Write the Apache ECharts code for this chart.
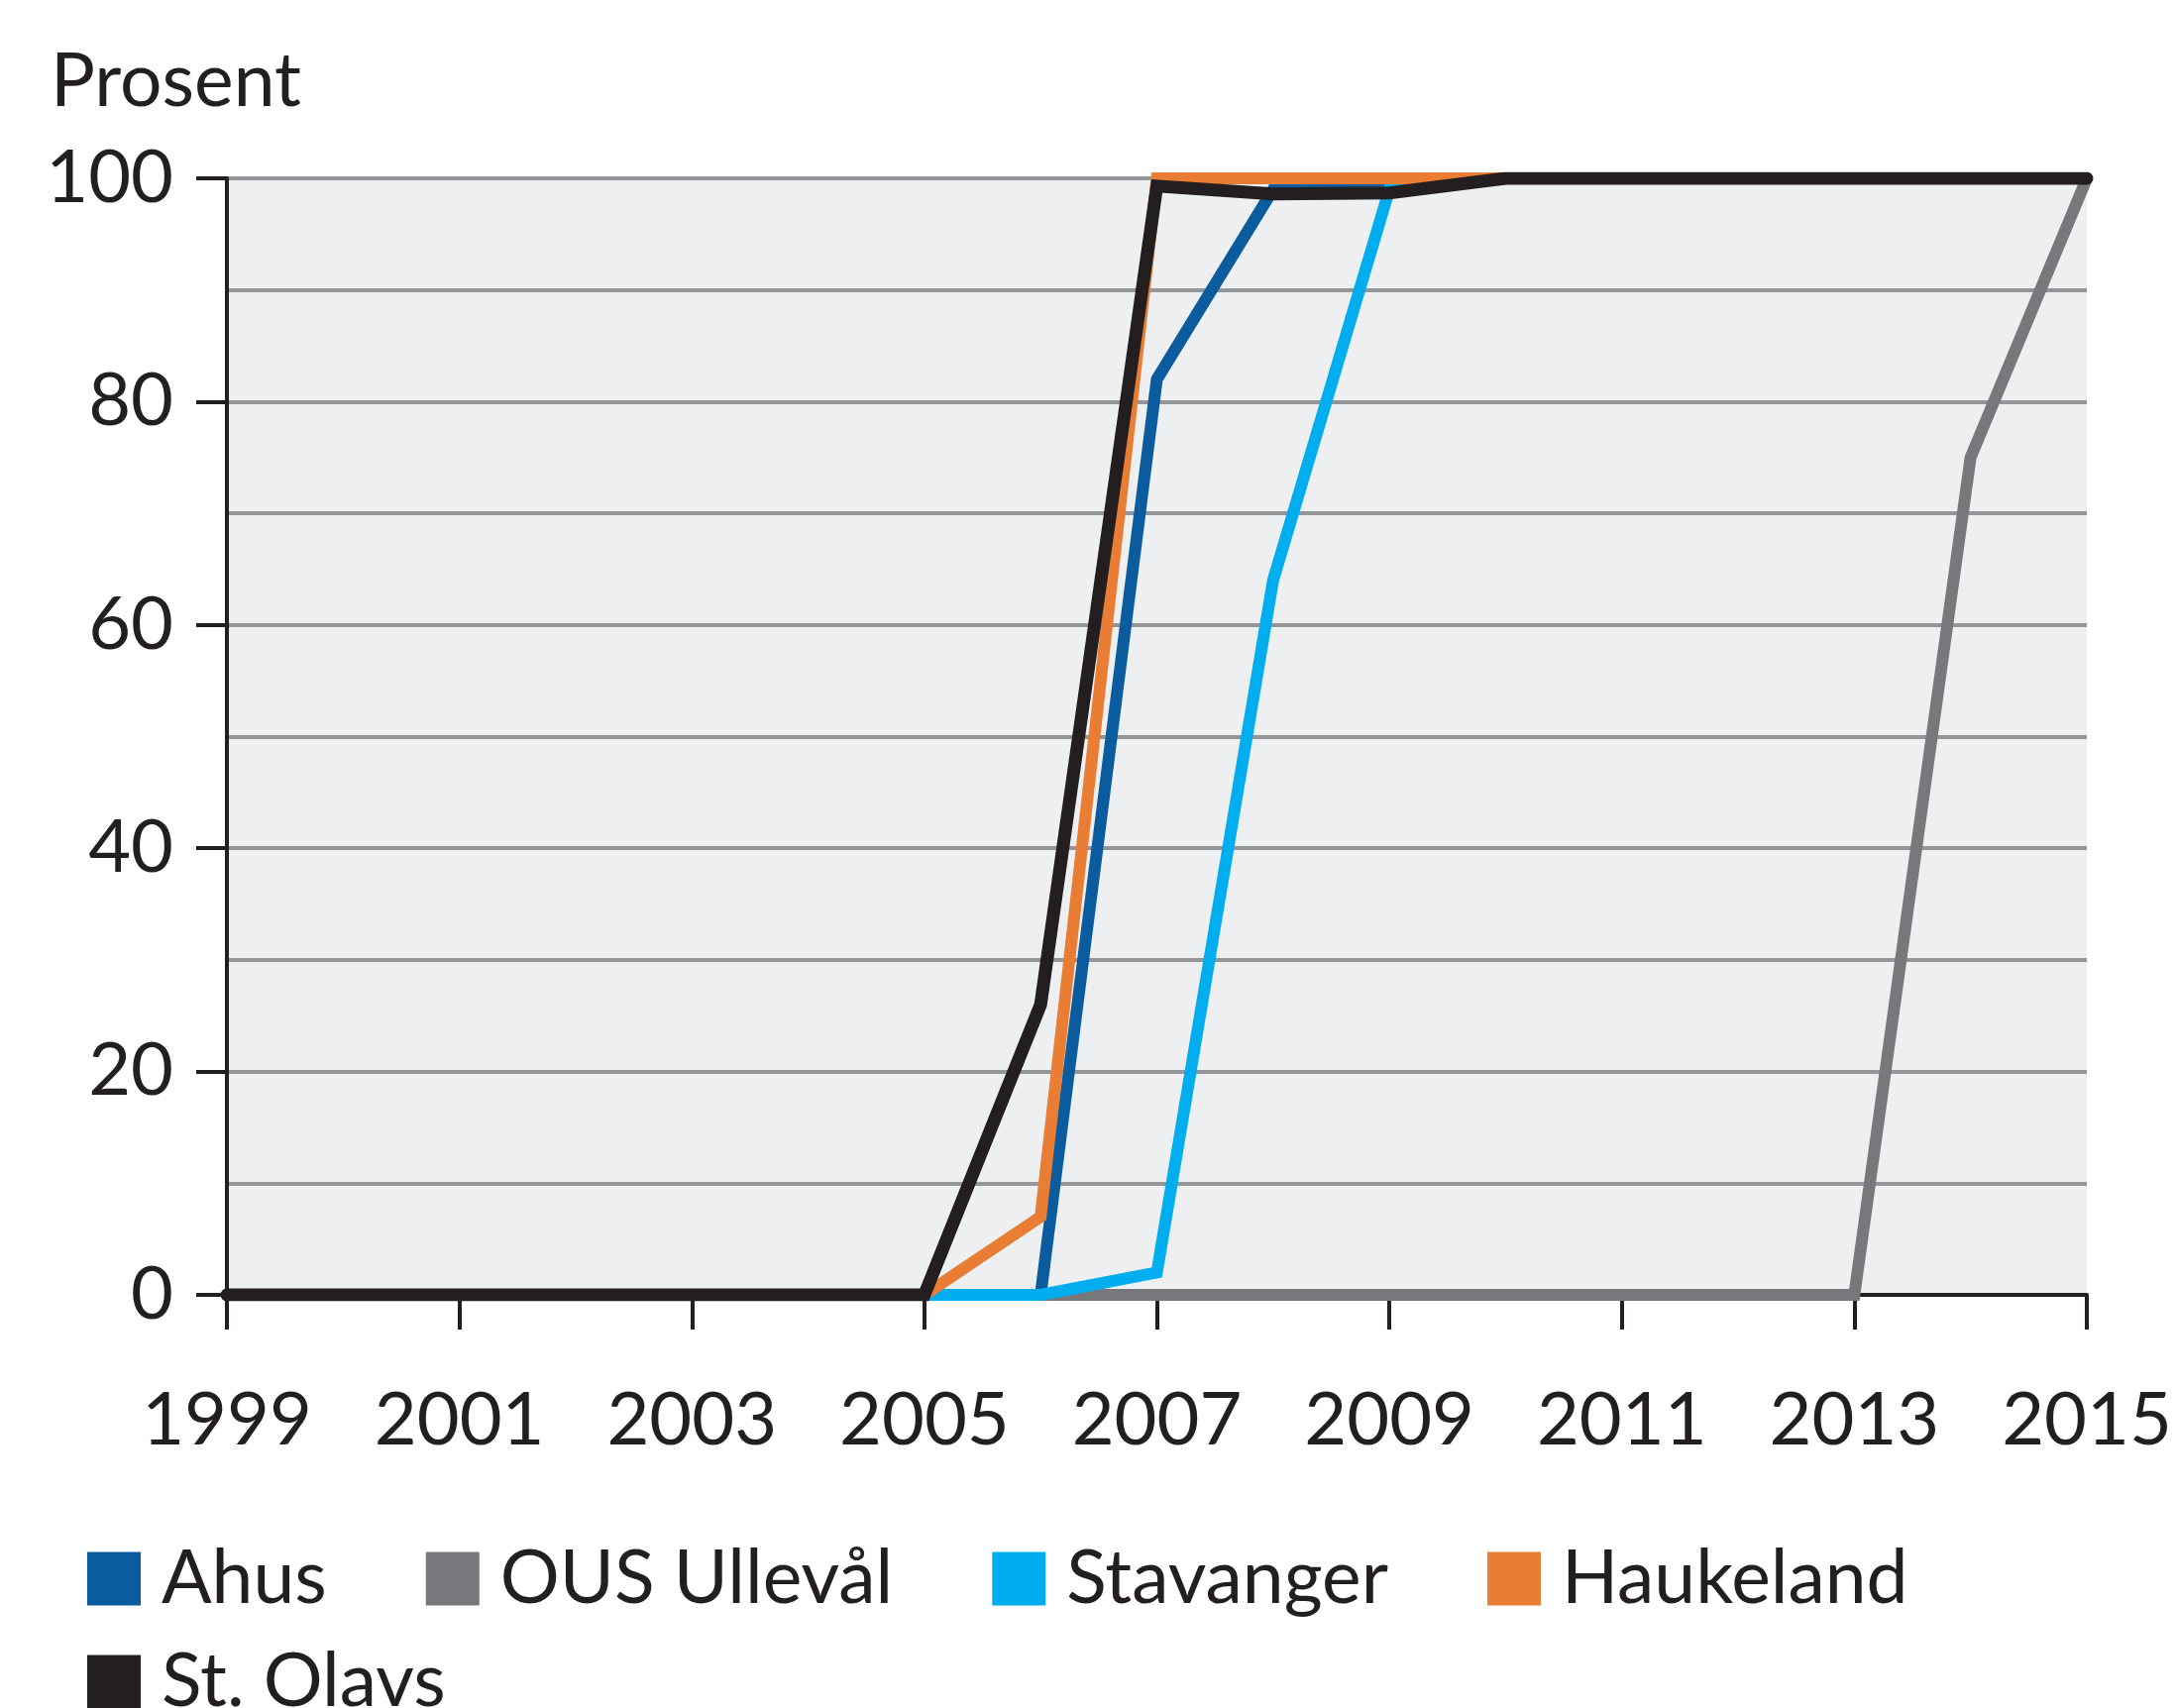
<!DOCTYPE html>
<html>
<head>
<meta charset="utf-8">
<script src="https://cdn.jsdelivr.net/npm/echarts@6/dist/echarts.min.js"></script>
<style>
html, body { margin: 0; padding: 0; background: #fff; }
#chart { width: 2196px; height: 1724px; }
</style>
</head>
<body>
<div id="chart"></div>
<script>
// år og andel (prosent) per sykehus
var years = ['1999','2000','2001','2002','2003','2004','2005','2006','2007','2008','2009','2010','2011','2012','2013','2014','2015'];
var ahus       = [0, 0, 0, 0, 0, 0, 0, 0, 82, 99, 99, 100, 100, 100, 100, 100, 100];
var ullevaal   = [0, 0, 0, 0, 0, 0, 0, 0, 0, 0, 0, 0, 0, 0, 0, 75, 100];
var stavanger  = [0, 0, 0, 0, 0, 0, 0, 0, 2, 64, 99, 100, 100, 100, 100, 100, 100];
var haukeland  = [0, 0, 0, 0, 0, 0, 0, 7, 100, 100, 100, 100, 100, 100, 100, 100, 100];
var stOlavs    = [0, 0, 0, 0, 0, 0, 0, 26, 99.3, 98.6, 98.7, 100, 100, 100, 100, 100, 100];

var names  = ['Ahus', 'OUS Ullevål', 'Stavanger', 'Haukeland', 'St. Olavs'];
var colors = ['#0a5c9f', '#77787b', '#00aeef', '#e87d33', '#231f20'];
var values = [ahus, ullevaal, stavanger, haukeland, stOlavs];

var txt = '#231f20';
var font = 'Lato';

var chart = echarts.init(document.getElementById('chart'));

var series = names.map(function (n, i) {
    return {
        name: n,
        type: 'line',
        data: values[i],
        showSymbol: false,
        symbol: 'none',
        color: colors[i],
        lineStyle: { color: colors[i], width: i === 4 ? 13 : 12, cap: 'round', join: 'miter' },
        z: 2 + i
    };
});

chart.setOption({
    animation: false,
    textStyle: { fontFamily: font, color: txt },
    title: {
        text: 'Prosent',
        left: 46,
        top: 40,
        textStyle: { fontFamily: font, fontSize: 75, fontWeight: 'normal', color: txt }
    },
    legend: [{
        data: names.slice(0, 4),
        left: 88,
        top: 1556,
        padding: 0,
        icon: 'rect',
        itemWidth: 54,
        itemHeight: 54,
        itemGap: 100,
        textStyle: { fontFamily: font, fontSize: 75, color: txt, padding: [0, 0, 0, 16] }
    }, {
        data: names.slice(4),
        left: 88,
        top: 1660,
        padding: 0,
        icon: 'rect',
        itemWidth: 54,
        itemHeight: 54,
        textStyle: { fontFamily: font, fontSize: 75, color: txt, padding: [0, 0, 0, 16] }
    }],
    grid: {
        left: 229,
        right: 90,
        top: 180,
        bottom: 417,
        show: true,
        backgroundColor: '#eeeff1',
        borderWidth: 0,
        containLabel: false
    },
    xAxis: {
        type: 'category',
        data: years,
        boundaryGap: false,
        axisLine: { lineStyle: { color: txt, width: 4 } },
        axisTick: { interval: 1, length: 35, lineStyle: { color: txt, width: 4 } },
        axisLabel: { interval: 1, margin: 90, fontFamily: font, fontSize: 74, color: txt },
        splitLine: { show: false }
    },
    yAxis: {
        type: 'value',
        min: 0,
        max: 100,
        interval: 20,
        axisLine: { show: true, lineStyle: { color: txt, width: 4 } },
        axisTick: { show: true, length: 31, lineStyle: { color: txt, width: 4 } },
        axisLabel: { margin: 54, fontFamily: font, fontSize: 74, color: txt },
        splitLine: { show: true, lineStyle: { color: '#939598', width: 4 } },
        minorTick: { show: false, splitNumber: 2 },
        minorSplitLine: { show: true, lineStyle: { color: '#939598', width: 4 } }
    },
    series: series
});
</script>
</body>
</html>
